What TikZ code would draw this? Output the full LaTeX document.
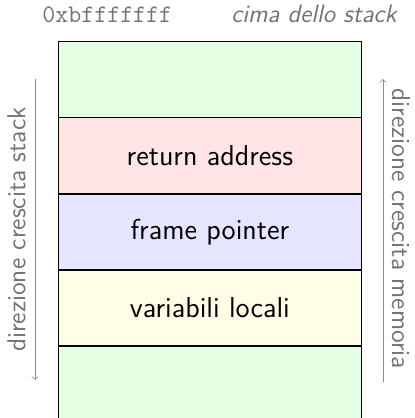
\documentclass[tikz,border=0pt]{standalone}
\usepackage{tikz}
\usetikzlibrary{positioning}

\begin{document}
\begin{tikzpicture}[x=0.5pt,y=-0.5pt,
    cella/.style={draw=black,line width=0.4pt,minimum width=151.5pt,minimum height=37.75pt,inner sep=0pt,font=\sffamily\fontsize{14.4}{17}\selectfont},
    nota/.style={text=black!55,font=\sffamily\fontsize{13}{15}\selectfont},
    freccia/.style={->,draw=black!45,line width=0.4pt}]
    % riquadro della figura
    \clip (0,0) rectangle (414,418);

    % celle dello stack
    \node[cella,fill=green!10,anchor=north west] (cima) at (58,41) {};
    \node[cella,fill=red!10,below=0pt of cima] (ret) {return address};
    \node[cella,fill=blue!10,below=0pt of ret] (fp) {frame pointer};
    \node[cella,fill=yellow!10,below=0pt of fp] (loc) {variabili locali};
    \node[cella,fill=green!10,below=0pt of loc] (fondo) {};

    % etichette in alto
    \node[nota,inner sep=0pt,font=\ttfamily\fontsize{12.6}{15}\selectfont,anchor=base west] (ind) at (42,22) {0xbfffffff};
    \node[nota,inner sep=0pt,font=\sffamily\itshape\fontsize{12.6}{15}\selectfont,anchor=base east] (top) at (397,22) {cima dello stack};

    % direzioni di crescita
    \coordinate (sx1) at (35,79);
    \coordinate (sx2) at (35,380);
    \coordinate (dx1) at (383,382);
    \coordinate (dx2) at (383,79);
    \draw[freccia] (sx1) -- (sx2);
    \draw[freccia] (dx1) -- (dx2);
    \node[nota,rotate=90] (stk) at (16.5,229.5) {direzione crescita stack};
    \node[nota,rotate=-90] (mem) at (401,229) {direzione crescita memoria};
\end{tikzpicture}
\end{document}
